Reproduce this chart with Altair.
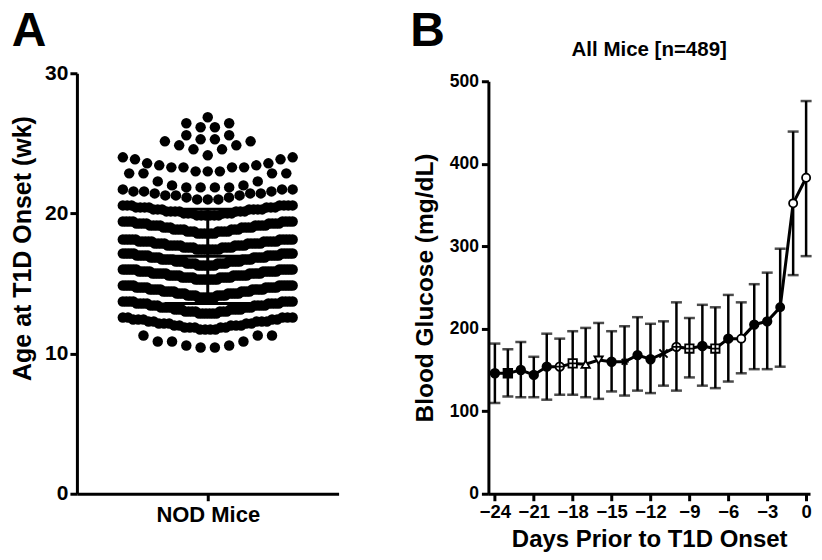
import numpy as np
import pandas as pd
import altair as alt

FONT = "Liberation Sans"

# ---------------- Panel A data: age at T1D onset ----------------
# each swarm row: list of (age in days, number of mice)
swarm_rows = [
    [(73, 2), (74, 2), (76, 3), (79, 3)],
    [(82, 4), (83, 5), (84, 5), (85, 5), (86, 5), (87, 5), (88, 5)],
    [(90, 6), (91, 7), (92, 7), (93, 7), (94, 7), (95, 8), (96, 8)],
    [(98, 7), (99, 8), (100, 9), (101, 9), (102, 10), (103, 10), (104, 11)],
    [(107, 9), (108, 10), (109, 11), (110, 11), (111, 11), (112, 12)],
    [(114, 7), (115, 8), (116, 9), (117, 9), (118, 9), (119, 10), (120, 10)],
    [(122, 8), (123, 8), (124, 9), (125, 9), (126, 10), (127, 10)],
    [(130, 6), (131, 7), (132, 7), (133, 7), (134, 8), (135, 8), (136, 8)],
    [(139, 6), (140, 6), (141, 7), (142, 7), (143, 7), (144, 7)],
    [(147, 3), (148, 2), (149, 3), (150, 3), (151, 3), (152, 3)],
    [(153, 4), (154, 2), (156, 2), (160, 4)],
    [(161, 3), (163, 4), (164, 2), (165, 2), (167, 2), (168, 2)],
    [(169, 1), (172, 2), (174, 2), (176, 2)],
    [(177, 2), (179, 2)],
    [(183, 2), (185, 2)],
    [(188, 1)],
]
group_label = "NOD Mice"

# ---------------- Panel B data: blood glucose before onset ----------------
days = list(range(-24, 1))
glucose_mean = [146, 146, 150, 144, 154, 154, 158, 157, 162, 160, 160, 168, 163,
                170, 178, 176, 179, 176, 188, 188, 205, 209, 226, 352, 383]
glucose_hi = [182, 175, 184, 166, 194, 188, 197, 201, 207, 197, 203, 214, 206,
              209, 232, 213, 229, 226, 241, 232, 254, 268, 297, 439, 476]
glucose_lo = [110, 118, 117, 117, 114, 120, 120, 117, 115, 124, 119, 125, 122,
              131, 125, 141, 131, 128, 136, 146, 151, 151, 154, 265, 288]
markers = ["dot", "square", "small", "small", "small", "circle_plus", "square_plus",
           "tri_up", "tri_down", "small", "star", "small", "small", "x",
           "circle_plus", "square_plus", "dot", "square_plus", "dot", "circle_open",
           "small", "small", "none", "circle_open", "circle_open"]
title_b = "All Mice [n=489]"

# ---------------- Panel A swarm layout ----------------
A_W, A_H = 262, 421
MAX_STEP, ROW_SPAN = 14.3, 170.0
recs = []
for r, row in enumerate(swarm_rows):
    vals = sorted([d for d, c in row for _ in range(c)])
    n = len(vals)
    step = MAX_STEP if n < 2 else min(MAX_STEP, ROW_SPAN / (n - 1))
    for i, d in enumerate(vals):
        if n % 2 == 1:
            k = (i + 1) // 2
            sign = -1 if i % 2 == 1 else 1
        else:
            k = i // 2 + 0.5
            sign = -1 if i % 2 == 0 else 1
        recs.append({"age": d / 7.0, "off": sign * k * step, "row": r})
swarm = pd.DataFrame(recs)
m = swarm["age"].mean()
s = swarm["age"].std()
stats = pd.DataFrame({"mean": [m], "lo": [m - s], "hi": [m + s]})

ascale = alt.Scale(domain=[0, 30], nice=False)
ya = alt.Y("age:Q", scale=ascale,
           axis=alt.Axis(values=[0, 10, 20, 30], title="Age at T1D Onset (wk)",
                         titlePadding=9, titleFontSize=25, labelFontSize=21,
                         labelPadding=2, titleY=175))
xa = alt.X("off:Q", scale=alt.Scale(domain=[-A_W / 2, A_W / 2], nice=False),
           axis=alt.Axis(values=[0], labelExpr=f"'{group_label}'", title=None,
                         labelFontSize=22, labelPadding=4))

dots = alt.Chart(swarm).mark_circle(size=110, color="black", opacity=1).encode(x=xa, y=ya)
mean_line = alt.Chart(stats).mark_rule(color="black", strokeWidth=3).encode(
    y=alt.Y("mean:Q", scale=ascale), x=alt.value(A_W / 2 - 86), x2=alt.value(A_W / 2 + 86))
sd_line = alt.Chart(stats).mark_rule(color="black", strokeWidth=3).encode(
    y=alt.Y("lo:Q", scale=ascale), y2="hi:Q", x=alt.value(A_W / 2))
cap_hi = alt.Chart(stats).mark_rule(color="black", strokeWidth=3).encode(
    y=alt.Y("hi:Q", scale=ascale), x=alt.value(A_W / 2 - 43), x2=alt.value(A_W / 2 + 43))
cap_lo = alt.Chart(stats).mark_rule(color="black", strokeWidth=3).encode(
    y=alt.Y("lo:Q", scale=ascale), x=alt.value(A_W / 2 - 43), x2=alt.value(A_W / 2 + 43))
letter_a = alt.Chart(pd.DataFrame({"t": ["A"]})).mark_text(
    font=FONT, fontWeight="bold", fontSize=48, align="center", baseline="middle",
    color="black").encode(text="t:N", x=alt.value(-48), y=alt.value(-41))

panel_a = alt.layer(dots, mean_line, sd_line, cap_hi, cap_lo, letter_a).properties(
    width=A_W, height=A_H)

# ---------------- Panel B ----------------
B_W = 322
gl = pd.DataFrame({"day": days, "mean": glucose_mean, "hi": glucose_hi,
                   "lo": glucose_lo, "marker": markers})
yscale = alt.Scale(domain=[0, 500], range=[A_H, 8], nice=False)
xscale = alt.Scale(domain=[-24.5, 0.3], nice=False)
xb = alt.X("day:Q", scale=xscale,
           axis=alt.Axis(values=list(range(-24, 1, 3)), title="Days Prior to T1D Onset",
                         titlePadding=6, labelPadding=2, labelFontSize=18.5,
                         titleFontSize=24))
yb = alt.Y("mean:Q", scale=yscale,
           axis=alt.Axis(values=[0, 100, 200, 300, 400, 500],
                         title="Blood Glucose (mg/dL)", titlePadding=12,
                         labelFontSize=17.5, titleFontSize=24.5, labelPadding=3))

err = alt.Chart(gl).mark_rule(color="black", strokeWidth=2.5).encode(
    x=xb, y=alt.Y("lo:Q", scale=yscale), y2="hi:Q")
tick_hi = alt.Chart(gl).mark_tick(color="black", thickness=2.5, size=11,
                                  orient="horizontal").encode(
    x=xb, y=alt.Y("hi:Q", scale=yscale))
tick_lo = alt.Chart(gl).mark_tick(color="black", thickness=2.5, size=11,
                                  orient="horizontal").encode(
    x=xb, y=alt.Y("lo:Q", scale=yscale))
line = alt.Chart(gl).mark_line(color="black", strokeWidth=3).encode(x=xb, y=yb)

circ = "M-1,0A1,1,0,1,1,1,0A1,1,0,1,1,-1,0Z"
shape_map = {
    "dot": ("circle", 75, "black"),
    "square": ("square", 65, "black"),
    "small": ("circle", 20, "black"),
    "circle_plus": (circ + "M-1,0L1,0M0,-1L0,1", 75, "white"),
    "square_plus": ("M-1,-1L1,-1L1,1L-1,1ZM-1,0L1,0M0,-1L0,1", 65, "white"),
    "tri_up": ("triangle-up", 65, "white"),
    "tri_down": ("triangle-down", 65, "white"),
    "star": ("M-1,0L1,0M0,-1L0,1M-0.7,-0.7L0.7,0.7M-0.7,0.7L0.7,-0.7", 60, "white"),
    "x": ("M-1,-1L1,1M-1,1L1,-1", 60, "white"),
    "circle_open": (circ, 70, "white"),
    "none": ("circle", 0, "black"),
}
names = list(shape_map.keys())
pts = alt.Chart(gl).mark_point(filled=False, stroke="black", strokeWidth=1.8,
                               opacity=1).encode(
    x=xb, y=yb,
    shape=alt.Shape("marker:N", scale=alt.Scale(domain=names,
                    range=[shape_map[k][0] for k in names]), legend=None),
    size=alt.Size("marker:N", scale=alt.Scale(domain=names,
                  range=[shape_map[k][1] for k in names]), legend=None),
    fill=alt.Fill("marker:N", scale=alt.Scale(domain=names,
                  range=[shape_map[k][2] for k in names]), legend=None),
)
title_txt = alt.Chart(pd.DataFrame({"t": [title_b]})).mark_text(
    font=FONT, fontWeight="bold", fontSize=20.5, align="center", baseline="middle",
    color="black").encode(text="t:N", x=alt.value(B_W / 2), y=alt.value(-23))
letter_b = alt.Chart(pd.DataFrame({"t": ["B"]})).mark_text(
    font=FONT, fontWeight="bold", fontSize=48, align="center", baseline="middle",
    color="black").encode(text="t:N", x=alt.value(-61), y=alt.value(-41))

panel_b = alt.layer(err, tick_hi, tick_lo, line, pts, title_txt, letter_b).properties(
    width=B_W, height=A_H)

chart = alt.hconcat(panel_a, panel_b, spacing=71).properties(
    padding={"left": 2, "top": 0, "right": 0, "bottom": 0}
).configure_view(stroke=None).configure_axis(
    grid=False, domainColor="black", domainWidth=3, tickColor="black", tickWidth=3,
    tickSize=7, labelFont=FONT, labelFontWeight="bold", labelFontSize=20,
    labelColor="black", titleFont=FONT, titleFontWeight="bold", titleFontSize=24,
    titleColor="black",
)

chart.save("out.html", embed_options={"renderer": "svg", "actions": False})
